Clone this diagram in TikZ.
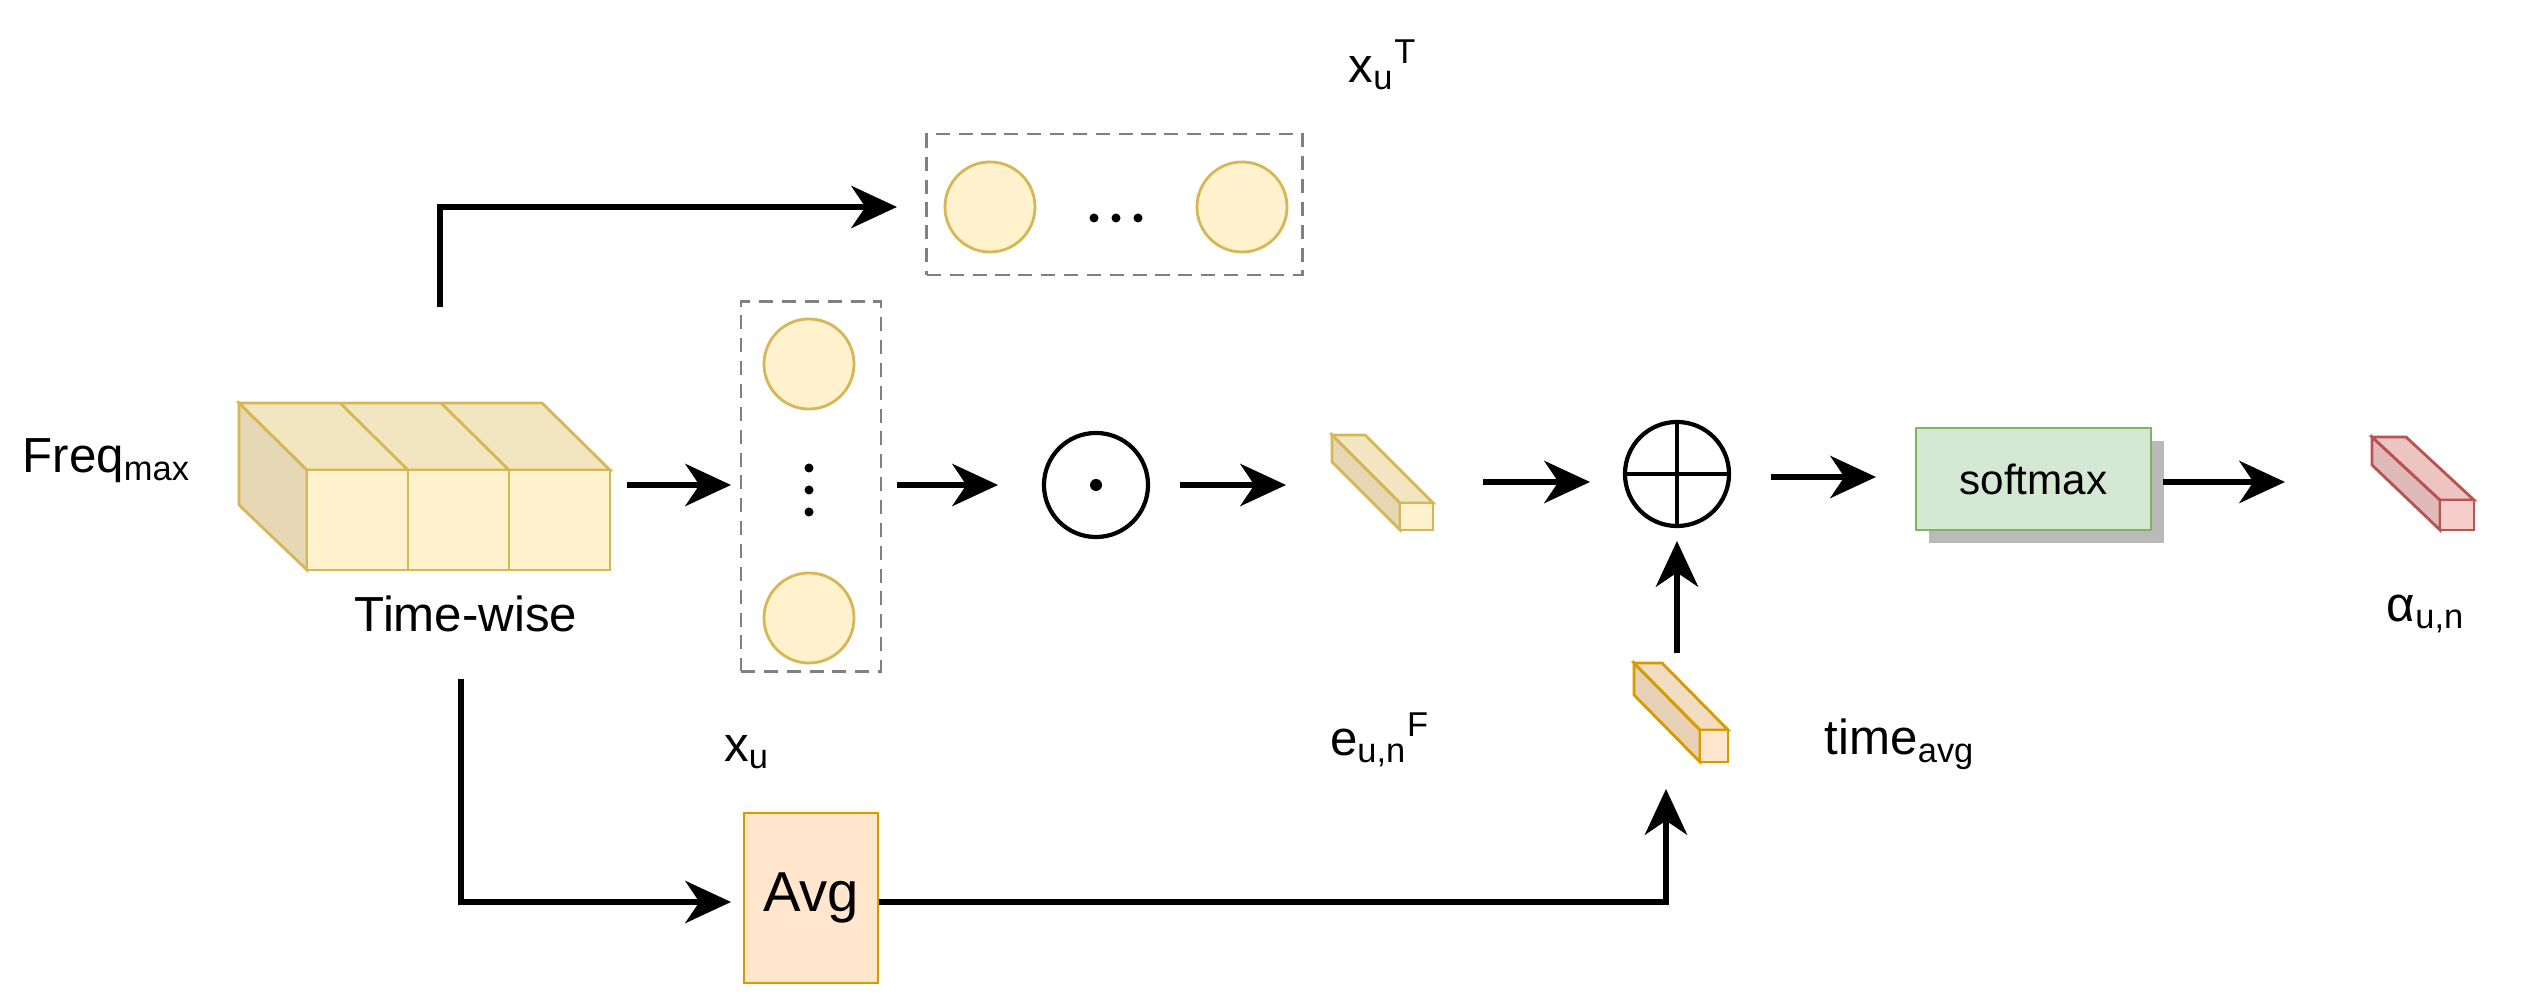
\documentclass[tikz,border=0pt]{standalone}
\usepackage{fontspec}
\setmainfont{Liberation Sans}
\usetikzlibrary{arrows.meta}
\definecolor{yfill}{HTML}{FFF2CC}\definecolor{ytop}{HTML}{F2E6C0}\definecolor{yside}{HTML}{E6D8B4}\definecolor{ystroke}{HTML}{D6B656}
\definecolor{ofill}{HTML}{FFE6CC}\definecolor{otop}{HTML}{F2DCC2}\definecolor{oside}{HTML}{E6D0B6}\definecolor{ostroke}{HTML}{D79B00}
\definecolor{rfill}{HTML}{F8CECC}\definecolor{rtop}{HTML}{ECC4C2}\definecolor{rside}{HTML}{E0BAB8}\definecolor{rstroke}{HTML}{B85450}
\definecolor{gfill}{HTML}{D5E8D4}\definecolor{gstroke}{HTML}{82B366}
\begin{document}
\begin{tikzpicture}[x=0.01cm,y=-0.01cm,
 arr/.style={line width=1.6pt,-{Stealth[length=13pt,width=12pt,inset=4pt]}},
 lab/.style={font=\fontsize{14}{16}\selectfont,inner sep=0},
 circ/.style={circle,draw=ystroke,fill=yfill,line width=0.8pt,minimum size=0.9cm,inner sep=0},
 dbox/.style={draw=gray,dashed,line width=0.8pt,dash pattern=on 4pt off 2.5pt},
 op/.style={circle,draw,line width=1.2pt,minimum size=1.04cm,inner sep=0}]
\useasboundingbox (0,0) rectangle (2535,1007);
% big cube
\draw[line width=0.8pt,draw=ystroke,fill=yside] (307,470)--(239,403)--(239,505)--(307,570)--cycle;
\draw[line width=0.8pt,draw=ystroke,fill=ytop] (307,470)--(239,403)--(542,403)--(610,470)--cycle;
\draw[line width=0.8pt,draw=ystroke] (340,403)--(408,470) (441,403)--(509,470);
\foreach \i in {0,1,2}{\draw[line width=0.8pt,draw=ystroke,fill=yfill] (307+101*\i,470) rectangle (408+101*\i,570);}
\coordinate (cubeR) at (627,485);
\coordinate (cubeT) at (440,307);
\coordinate (cubeB) at (461,679);
\node[lab,anchor=west] (freq) at (22,461) {Freq\textsubscript{max}};
\node[lab] (tw) at (466,614) {Time-wise};
% top dashed box
\node[dbox,minimum width=3.75cm,minimum height=1.41cm] (topbox) at (1114.5,204.5) {};
\node[circ] (c1) at (990,207) {};
\node[circ] (c2) at (1242,207) {};
\foreach \dx in {-22,0,22}{\fill (1116+\dx,218) circle (4.5);}
\node[lab] (xuT) at (1383,65) {x\textsubscript{u}\textsuperscript{T}};
% vertical dashed box
\node[dbox,minimum width=1.4cm,minimum height=3.69cm] (vbox) at (811,486.5) {};
\node[circ] (c3) at (809,364) {};
\node[circ] (c4) at (809,618) {};
\foreach \dy in {-22,0,22}{\fill (809,490+\dy) circle (4.5);}
\node[lab] (xu) at (747,752) {x\textsubscript{u}};
% odot
\node[op] (odot) at (1096,485) {};
\fill (odot.center) circle (6);
% e cuboid
\draw[line width=0.8pt,draw=ystroke,fill=yside] (1400,503)--(1332,435)--(1332,462)--(1400,530)--cycle;
\draw[line width=0.8pt,draw=ystroke,fill=ytop] (1400,503)--(1332,435)--(1365,435)--(1433,503)--cycle;
\draw[line width=0.8pt,draw=ystroke,fill=yfill] (1400,503) rectangle (1433,530);
\node[lab] (elab) at (1380,740) {e\textsubscript{u,n}\textsuperscript{F}};
% oplus
\node[op] (oplus) at (1677,474) {};
\draw[line width=1.2pt] (oplus.north)--(oplus.south) (oplus.west)--(oplus.east);
% time avg cuboid
\draw[line width=0.8pt,draw=ostroke,fill=oside] (1700,730)--(1634,663)--(1634,695)--(1700,762)--cycle;
\draw[line width=0.8pt,draw=ostroke,fill=otop] (1700,730)--(1634,663)--(1662,663)--(1728,730)--cycle;
\draw[line width=0.8pt,draw=ostroke,fill=ofill] (1700,730) rectangle (1728,762);
\node[lab] (tlab) at (1900,744) {time\textsubscript{avg}};
% softmax
\fill[gray!55] (1929,441) rectangle (2164,543);
\node[draw=gstroke,fill=gfill,line width=0.8pt,minimum width=2.35cm,minimum height=1.02cm,font=\fontsize{12}{14}\selectfont] (sm) at (2033.5,479) {softmax};
% red cuboid
\draw[line width=0.8pt,draw=rstroke,fill=rside] (2440,500)--(2372,437)--(2372,465)--(2440,530)--cycle;
\draw[line width=0.8pt,draw=rstroke,fill=rtop] (2440,500)--(2372,437)--(2406,437)--(2474,500)--cycle;
\draw[line width=0.8pt,draw=rstroke,fill=rfill] (2440,500) rectangle (2474,530);
\node[lab] (alab) at (2426,614) {α\textsubscript{u,n}};
% Avg
\node[draw=ostroke,fill=ofill,line width=0.8pt,minimum width=1.34cm,minimum height=1.7cm,font=\fontsize{16}{18}\selectfont] (avg) at (811,898) {Avg};
% arrow end points
\coordinate (a1) at (731,485);
\coordinate (b0) at (897,485); \coordinate (b1) at (998,485);
\coordinate (d0) at (1180,485); \coordinate (d1) at (1286,485);
\coordinate (e0) at (1483,482); \coordinate (e1) at (1590,482);
\coordinate (f0) at (1677,653); \coordinate (f1) at (1677,541);
\coordinate (g0) at (1771,477); \coordinate (g1) at (1876,477);
\coordinate (h0) at (2163,482); \coordinate (h1) at (2285,482);
\coordinate (t1) at (897,207);
\coordinate (k1) at (731,902);
\coordinate (m1) at (1666,789);
% arrows
\draw[arr] (cubeT)--(440,207)--(t1);
\draw[arr] (cubeR)--(a1);
\draw[arr] (b0)--(b1);
\draw[arr] (d0)--(d1);
\draw[arr] (e0)--(e1);
\draw[arr] (f0)--(f1);
\draw[arr] (g0)--(g1);
\draw[arr] (h0)--(h1);
\draw[arr] (cubeB)--(461,902)--(k1);
\draw[arr] (avg.east|-k1)--(1666,902)--(m1);
\end{tikzpicture}
\end{document}
